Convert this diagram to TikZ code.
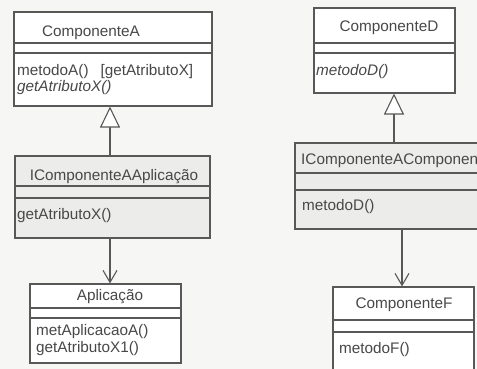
\documentclass[tikz,border=0pt]{standalone}
\usepackage{fontspec}
\setmainfont{Liberation Sans}
\usetikzlibrary{arrows.meta}

\definecolor{paper}{RGB}{246,246,244}
\definecolor{shade}{RGB}{236,236,234}
\definecolor{ink}{RGB}{88,88,88}
\definecolor{txt}{RGB}{72,72,72}

\tikzset{
  classbox/.style={draw=ink, line width=1.1pt, rectangle, inner sep=0pt, fill=white},
  shadedbox/.style={classbox, fill=shade},
  sep/.style={draw=ink, line width=1.1pt},
  cname/.style={inner sep=0pt, text=txt, font=\fontsize{15.3pt}{18pt}\selectfont},
  member/.style={inner sep=0pt, anchor=west, text=txt, font=\fontsize{15.3pt}{18pt}\selectfont},
  absmember/.style={member, font=\fontsize{15.3pt}{18pt}\selectfont\itshape},
  generalization/.style={draw=ink, line width=1.1pt,
    -{Triangle[open, length=21pt, width=20pt, line width=1.1pt, fill=white]}},
  navigable/.style={draw=ink, line width=1.1pt,
    -{Straight Barb[length=12pt, width=14pt, line width=1.1pt]}},
}

\begin{document}
\begin{tikzpicture}[x=1pt, y=-1pt]
  \useasboundingbox (0,0) rectangle (477,369);
  \fill[paper] (0,0) rectangle (477,369);
  \clip (0,0) rectangle (477,369);

  % ---------- left column ----------
  \node[classbox, minimum width=198pt, minimum height=94pt] (A) at (113,59) {};
  \draw[sep] (14,43) -- (212,43) (14,53) -- (212,53);
  \node[cname] (Aname) at (91,33) {ComponenteA};
  \node[member] (Am1) at (17,72) {metodoA()\enspace\ [getAtributoX]};
  \node[absmember] (Am2) at (17,88) {getAtributoX()};

  \node[shadedbox, minimum width=195pt, minimum height=82pt] (AI) at (112.5,197) {};
  \draw[sep] (15,186) -- (210,186) (15,198) -- (210,198);
  \node[cname] (AIname) at (114,177) {IComponenteAAplicação};
  \node[member] (AIm1) at (17,216) {getAtributoX()};

  \node[classbox, minimum width=151pt, minimum height=79pt] (App) at (105.5,323.5) {};
  \draw[sep] (30,308) -- (181,308) (30,318) -- (181,318);
  \node[cname] (Appname) at (110,297) {Aplicação};
  \node[member] (Appm1) at (36,332) {metAplicacaoA()};
  \node[member] (Appm2) at (36,349) {getAtributoX1()};

  \coordinate (lx) at (110,0);
  \draw[generalization] (AI.north -| lx) -- (A.south -| lx);
  \draw[navigable] (AI.south -| lx) -- (App.north -| lx);

  % ---------- right column ----------
  \node[classbox, minimum width=141pt, minimum height=85pt] (D) at (384.5,50.5) {};
  \draw[sep] (314,43) -- (455,43) (314,53) -- (455,53);
  \node[cname] (Dname) at (389,28) {ComponenteD};
  \node[absmember] (Dm1) at (316,72) {metodoD()};

  \node[shadedbox, minimum width=205pt, minimum height=86pt] (DI) at (397.5,186) {};
  \draw[sep] (295,173) -- (500,173) (295,190) -- (500,190);
  \node[member] (DIname) at (301,161) {IComponenteAComponente};
  \node[member] (DIm1) at (302,207) {metodoD()};

  \node[classbox, minimum width=141pt, minimum height=100pt] (F) at (403.5,337) {};
  \draw[sep] (333,320) -- (474,320) (333,332) -- (474,332);
  \node[cname] (Fname) at (404,305) {ComponenteF};
  \node[member] (Fm1) at (339,350) {metodoF()};

  \coordinate (rx1) at (394,0);
  \coordinate (rx2) at (402,0);
  \draw[generalization] (DI.north -| rx1) -- (D.south -| rx1);
  \draw[navigable] (DI.south -| rx2) -- (F.north -| rx2);
\end{tikzpicture}
\end{document}
